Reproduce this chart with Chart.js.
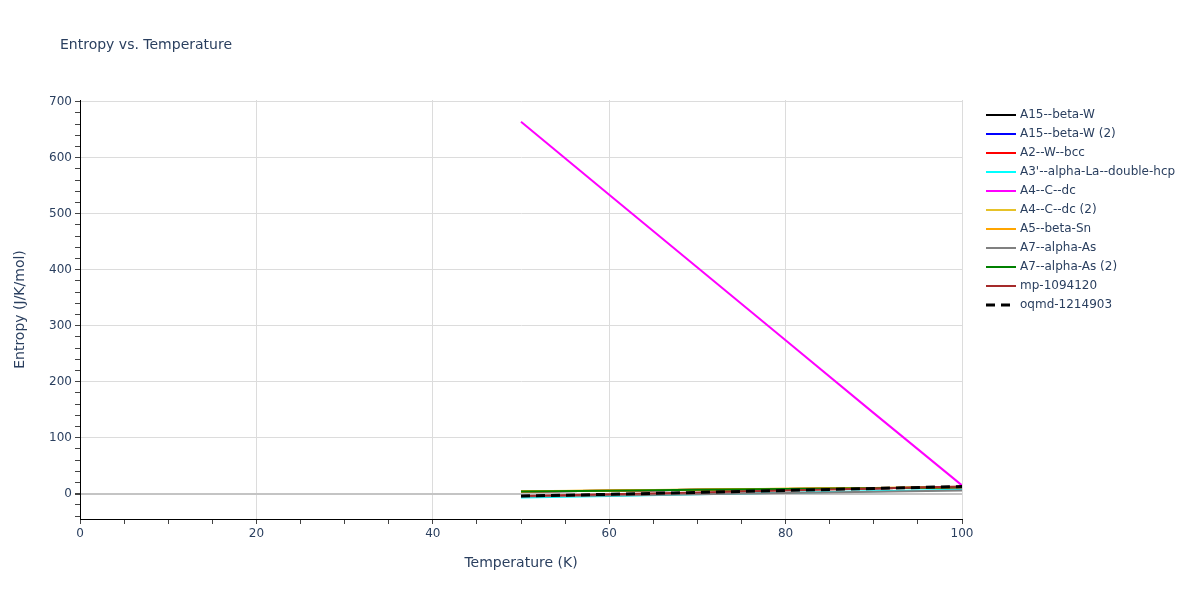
<!DOCTYPE html>
<html>
<head>
<meta charset="utf-8">
<script src="https://cdn.jsdelivr.net/npm/chart.js@4"></script>
<style>
body { margin: 0; background: #fff; }
#wrap { width: 1200px; height: 600px; }
</style>
</head>
<body>
<div id="wrap"><canvas id="chart" width="1200" height="600"></canvas></div>
<script>
// data
var temps = [50, 60, 70, 80, 90, 100]
var names = ['A15--beta-W', 'A15--beta-W (2)', 'A2--W--bcc', "A3'--alpha-La--double-hcp", 'A4--C--dc',
	'A4--C--dc (2)', 'A5--beta-Sn', 'A7--alpha-As', 'A7--alpha-As (2)', 'mp-1094120', 'oqmd-1214903']
var colors = ['#000000', '#0000ff', '#ff0000', '#00ffff', '#ff00ff',
	'#e6c229', '#ffa500', '#808080', '#008000', '#a52a2a', '#000000']
var sA15 = [4, 5.5, 7, 8.5, 10, 11.8]
var sA15b = [4, 5.5, 7, 8.5, 10, 11.8]
var sA2 = [4, 5.5, 7, 8.5, 10, 11.7]
var sA3 = [-6.5, -4, -1, 2, 4.5, 7]
var sA4 = [664, 534, 404, 274, 144, 15]
var sA4b = [4.5, 6, 7.5, 9, 10.5, 12]
var sA5 = [4.3, 5.8, 7.3, 8.8, 10.3, 11.8]
var sA7 = [-5, -3, -1, 1.5, 3.5, 6]
var sA7b = [4, 5.5, 7, 8.5, 10, 11.5]
var sMp = [-4, -1, 2.5, 6, 9.5, 13]
var sOqmd = [-4, -1, 2.5, 6, 9.5, 13]
var series = [sA15, sA15b, sA2, sA3, sA4, sA4b, sA5, sA7, sA7b, sMp, sOqmd]

var txt = '#2a3f5f'
var font = '"DejaVu Sans", verdana, sans-serif'

var datasets = []
for (let i = 0; i < series.length; i++) {
	var dashed = names[i] == 'oqmd-1214903'
	datasets.push({
		label: names[i],
		data: series[i].map(function (v, j) { return { x: temps[j], y: v } }),
		borderColor: colors[i],
		backgroundColor: colors[i],
		borderWidth: dashed ? 3 : 2,
		borderDash: dashed ? [9, 6] : [],
		pointRadius: 0,
		fill: false,
		order: series.length - i
	})
}

// title + legend drawn by hand so the plot area stays put
var extras = {
	id: 'extras',
	afterDraw: function (chart) {
		var ctx = chart.ctx
		ctx.save()
		ctx.fillStyle = txt
		ctx.textBaseline = 'middle'
		ctx.font = '14px ' + font
		ctx.fillText('Entropy vs. Temperature', 60, 45)
		ctx.font = '12px ' + font
		chart.data.datasets.forEach(function (ds, i) {
			var y = 115 + i * 19
			ctx.beginPath()
			ctx.strokeStyle = ds.borderColor
			ctx.lineWidth = ds.borderWidth
			ctx.setLineDash(ds.borderDash)
			ctx.moveTo(986, y)
			ctx.lineTo(1016, y)
			ctx.stroke()
			ctx.setLineDash([])
			ctx.fillText(ds.label, 1020, y)
		})
		ctx.restore()
	}
}

new Chart(document.getElementById('chart'), {
	type: 'line',
	data: { datasets: datasets },
	plugins: [extras],
	options: {
		responsive: false,
		animation: false,
		layout: { padding: { left: 0, right: 238, top: 100, bottom: 0 } },
		plugins: { legend: { display: false }, title: { display: false }, tooltip: { enabled: false } },
		scales: {
			x: {
				type: 'linear',
				min: 0,
				max: 100,
				afterFit: function (s) { s.height = 81 },
				border: { display: true, color: '#000', width: 1 },
				grid: {
					color: function (c) { return c.tick && c.tick.value % 20 == 0 && c.tick.value > 0 ? '#dcdcdc' : 'transparent' },
					tickColor: '#444',
					tickLength: 5,
					drawOnChartArea: true
				},
				ticks: {
					stepSize: 5,
					autoSkip: false,
					maxRotation: 0,
					color: txt,
					font: { family: font, size: 12 },
					padding: 3,
					callback: function (v) { return v % 20 == 0 ? v : '' }
				},
				title: { display: true, text: 'Temperature (K)', color: txt, font: { family: font, size: 14 }, padding: { bottom: 28 } }
			},
			y: {
				min: -45,
				max: 703,
				afterFit: function (s) { s.width = 80 },
				afterBuildTicks: function (s) {
					var t = []
					for (var v = -40; v <= 700; v += 20) t.push({ value: v })
					s.ticks = t
				},
				border: { display: true, color: '#000', width: 1 },
				grid: {
					color: function (c) {
						if (!c.tick) return 'transparent'
						if (c.tick.value == 0) return '#c4c4c4'
						return c.tick.value % 100 == 0 ? '#dcdcdc' : 'transparent'
					},
					lineWidth: function (c) { return c.tick && c.tick.value == 0 ? 2 : 1 },
					tickColor: '#444',
					tickLength: 5
				},
				ticks: {
					autoSkip: false,
					color: txt,
					font: { family: font, size: 12 },
					padding: 3,
					callback: function (v) { return v % 100 == 0 ? v : '' }
				},
				title: { display: true, text: 'Entropy (J/K/mol)', color: txt, font: { family: font, size: 14 }, padding: { top: 12 } }
			}
		}
	}
})
</script>
</body>
</html>
